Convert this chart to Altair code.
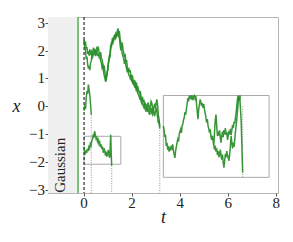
import altair as alt
import pandas as pd

GREEN = "#228b22"

# main path (two close sample paths)
A_t = [0.00,0.03,0.06,0.09,0.12,0.15,0.18,0.21,0.24,0.27,0.30,0.33,0.36,0.39,0.42,0.45,0.48,0.51,0.54,0.57,
       0.60,0.63,0.66,0.69,0.72,0.75,0.78,0.81,0.84,0.87,0.90,0.93,0.96,0.99,1.02,1.05,1.08,1.11,1.14,1.17,
       1.20,1.23,1.26,1.29,1.32,1.35,1.38,1.41,1.44,1.47,1.50,1.53,1.56,1.59,1.62,1.65,1.68,1.71,1.74,1.77,
       1.80,1.83,1.86,1.89,1.92,1.95,1.98,2.01,2.04,2.07,2.10,2.13,2.16,2.19,2.22,2.25,2.28,2.31,2.34,2.37,
       2.40,2.43,2.46,2.49,2.52,2.55,2.58,2.61,2.64,2.67,2.70,2.73,2.76,2.79,2.82,2.85,2.88,2.91,2.94,2.97,
       3.00,3.03,3.06,3.09,3.12,3.15]
A_x = [2.40,2.25,2.32,2.05,2.12,1.88,1.98,1.82,2.04,1.90,1.96,1.79,1.95,2.10,1.98,2.06,1.90,1.98,2.14,2.02,
       2.08,1.92,1.86,1.94,1.72,1.68,1.52,1.40,1.46,1.20,0.92,1.05,1.14,1.40,1.56,1.68,1.90,2.20,2.12,2.36,
       2.30,2.48,2.40,2.58,2.44,2.50,2.68,2.79,2.62,2.70,2.40,2.30,2.10,2.28,2.05,1.92,1.75,1.88,1.60,1.66,
       1.40,1.25,1.38,1.22,1.30,1.10,1.04,1.12,0.90,0.82,0.95,0.86,0.74,0.80,0.60,0.66,0.52,0.46,0.55,0.32,
       0.25,0.34,0.16,0.24,0.05,0.10,0.04,-0.12,0.06,0.14,-0.05,-0.10,0.02,0.18,0.12,-0.08,-0.18,0.00,0.10,-0.06,
       0.12,0.25,0.05,-0.30,-0.45,-0.72]
A2_x = [2.38,2.10,2.00,1.70,1.78,1.50,1.35,1.45,1.30,1.55,1.62,1.85,1.78,1.92,1.84,1.98,1.80,1.88,1.96,1.80,
        1.90,1.76,1.80,1.62,1.56,1.38,1.44,1.24,1.10,1.02,0.88,0.98,1.25,1.30,1.62,1.80,1.78,2.05,2.30,2.22,
        2.40,2.36,2.55,2.46,2.62,2.58,2.55,2.70,2.50,2.45,2.20,2.00,2.14,1.86,1.80,1.70,1.52,1.70,1.45,1.36,
        1.22,1.30,1.12,1.10,1.00,1.06,0.92,0.96,0.78,0.86,0.72,0.78,0.62,0.68,0.50,0.44,0.40,0.30,0.36,0.20,
        0.12,0.20,0.02,-0.04,0.08,-0.10,-0.18,-0.02,-0.20,-0.08,-0.22,-0.30,-0.15,-0.06,-0.25,-0.30,-0.10,-0.22,-0.35,-0.20,
        -0.05,-0.15,-0.40,-0.60,-0.50,-0.80]

# short path near t=0
C_t = [0.00,0.03,0.06,0.09,0.12,0.15,0.18,0.21,0.24,0.27,0.30]
C_x = [-0.15,0.05,-0.10,0.30,0.55,0.45,0.78,0.60,0.40,0.10,-0.30]

# inset 1 path
D_t = [0.00,0.03,0.05,0.08,0.11,0.14,0.17,0.20,0.23,0.26,0.29,0.32,0.35,0.38,0.41,0.44,0.47,0.50,0.53,0.56,
       0.59,0.62,0.65,0.68,0.71,0.74,0.77,0.80,0.83,0.86,0.89,0.92,0.95,0.98,1.01,1.04,1.07,1.09,1.11,1.12,
       1.13,1.15]
D_x = [-1.46,-1.62,-1.72,-1.58,-1.66,-1.52,-1.60,-1.45,-1.50,-1.34,-1.40,-1.24,-1.18,-1.05,-1.12,-0.89,-1.02,-1.15,-1.08,-1.26,
       -1.20,-1.34,-1.28,-1.46,-1.36,-1.52,-1.44,-1.66,-1.50,-1.58,-1.76,-1.62,-1.80,-1.70,-1.56,-1.78,-1.84,-1.40,-1.02,-1.30,
       -1.65,-2.12]

# inset 2 path
E_t = [3.30,3.33,3.36,3.39,3.42,3.45,3.48,3.51,3.54,3.57,3.60,3.63,3.66,3.69,3.72,3.75,3.78,3.81,3.84,3.87,
       3.90,3.93,3.96,3.99,4.02,4.05,4.08,4.11,4.14,4.17,4.20,4.23,4.26,4.29,4.32,4.35,4.38,4.41,4.44,4.47,
       4.50,4.53,4.56,4.59,4.62,4.65,4.68,4.71,4.74,4.77,4.80,4.83,4.86,4.89,4.92,4.95,4.98,5.01,5.04,5.07,
       5.10,5.13,5.16,5.19,5.22,5.25,5.28,5.31,5.34,5.37,5.40,5.43,5.46,5.49,5.52,5.55,5.58,5.61,5.64,5.67,
       5.70,5.73,5.76,5.79,5.82,5.85,5.88,5.91,5.94,5.97,6.00,6.03,6.06,6.09,6.12,6.15,6.18,6.21,6.24,6.27,
       6.30,6.33,6.36,6.39,6.42,6.45,6.48,6.51,6.54,6.56,6.58,6.60]
E_x = [-0.70,-0.85,-1.10,-1.02,-1.42,-1.30,-1.55,-1.48,-1.62,-1.50,-1.58,-1.40,-1.48,-1.36,-1.60,-1.72,-1.84,-1.60,-1.44,-1.30,
       -1.18,-1.26,-1.00,-0.90,-0.82,-0.95,-0.70,-0.62,-0.48,-0.40,-0.20,-0.30,-0.08,0.10,0.30,0.18,0.38,0.26,0.39,0.30,
       0.39,0.22,0.36,0.39,0.28,0.37,0.10,-0.20,-0.46,-0.10,0.05,0.25,0.18,0.02,0.12,-0.05,0.08,-0.11,-0.25,-0.40,
       -0.58,-0.45,-0.70,-0.80,-0.94,-0.82,-1.08,-1.20,-1.05,-1.25,-1.42,-0.90,-0.50,-0.29,-0.70,-1.06,-0.90,-1.05,-0.86,-1.15,
       -1.30,-1.05,-0.90,-1.10,-0.85,-1.00,-0.78,-1.02,-0.92,-1.20,-1.05,-0.88,-1.00,-0.80,-1.02,-0.85,-0.66,-0.78,-0.55,-0.62,
       -0.40,-0.20,0.05,0.30,0.39,0.20,0.32,-0.10,-0.58,-1.20,-1.80,-2.37]
E2_t = [5.40,5.43,5.46,5.49,5.52,5.55,5.58,5.61,5.64,5.67,5.70,5.73,5.76,5.79,5.82,5.85,5.88,5.91,5.94,5.97,
        6.00,6.03,6.06,6.09,6.12,6.15,6.18,6.21,6.24,6.27,6.30,6.33,6.36,6.39,6.42,6.45,6.48,6.50]
E2_x = [-1.42,-1.55,-1.40,-1.62,-1.50,-1.74,-1.60,-1.82,-1.70,-1.55,-1.78,-1.90,-1.72,-2.00,-2.19,-1.95,-1.70,-1.82,-1.60,-1.75,
        -1.85,-1.95,-1.70,-1.40,-1.05,-1.30,-1.50,-1.30,-1.45,-1.20,-0.90,-0.70,-0.40,-0.10,0.15,0.36,0.25,0.39]

# inset boxes
box_t0 = [0.0, 3.30]
box_t1 = [1.53, 7.70]
box_x0 = [-2.07, -2.54]
box_x1 = [-1.07, 0.39]

# dotted connector rules
dot_t = [0.30, 1.15, 3.15, 6.60]
dot_top = [-0.30, -2.12, -0.85, 0.0]
dot_bot = [-3.1, -3.1, -3.1, -2.54]

# axis ticks and their labels
x_ticks = [0, 2, 4, 6, 8]
x_tick_labels = ["0", "2", "4", "6", "8"]
y_ticks = [-3, -2, -1, 0, 1, 2, 3]
y_tick_labels = ["\u22123", "\u22122", "\u22121", "0", "1", "2", "3"]

rows = []
for name, ts, xs in [("A", A_t, A_x), ("A2", A_t, A2_x), ("C", C_t, C_x),
                     ("D", D_t, D_x), ("E", E_t, E_x), ("E2", E2_t, E2_x)]:
    for t, x in zip(ts, xs):
        rows.append({"series": name, "t": t, "x": x})
paths = pd.DataFrame(rows)

T_MIN, T_MAX = -1.5, 8.07
X_MIN, X_MAX = -3.1, 3.2
XS = alt.Scale(domain=[T_MIN, T_MAX], nice=False, zero=False)
YS = alt.Scale(domain=[X_MIN, X_MAX], nice=False, zero=False)
FONT = "Liberation Serif"

common = dict(grid=False, domain=False, labels=False, titleFont=FONT,
              titleFontSize=18, titleFontStyle="italic", titleFontWeight="normal",
              titleColor="#222", tickColor="#555", tickSize=3)
xaxis = alt.Axis(values=x_ticks, title="t", titleY=24, titleBaseline="middle", **common)
yaxis = alt.Axis(values=y_ticks, title="x", titleAngle=0, titleX=-32, titleY=89,
                 titleAlign="center", titleBaseline="middle", **common)


def X(f):
    return alt.X(f, scale=XS, axis=xaxis)


def Y(f):
    return alt.Y(f, scale=YS, axis=yaxis)


shade = alt.Chart(pd.DataFrame({"t0": [T_MIN], "t1": [-0.25]})).mark_rect(color="#f0f0f0").encode(
    x=X("t0:Q"), x2="t1:Q", y=alt.value(0), y2=alt.value(176))

boxes = alt.Chart(pd.DataFrame({"t0": box_t0, "t1": box_t1, "x0": box_x0, "x1": box_x1})).mark_rect(
    fillOpacity=0, stroke="#aaaaaa", strokeWidth=1).encode(
    x=X("t0:Q"), x2="t1:Q", y=Y("x0:Q"), y2="x1:Q")

green_rule = alt.Chart(pd.DataFrame({"t": [-0.25]})).mark_rule(color="#2ca02c", strokeWidth=1.2).encode(
    x=X("t:Q"))
dash_rule = alt.Chart(pd.DataFrame({"t": [0.0]})).mark_rule(color="black", strokeWidth=1,
                                                            strokeDash=[3, 2]).encode(x=X("t:Q"))

dots = alt.Chart(pd.DataFrame({"t": dot_t, "a": dot_top, "b": dot_bot})).mark_rule(
    color="#777", strokeWidth=0.8, strokeDash=[1, 1.5]).encode(
    x=X("t:Q"), y=Y("a:Q"), y2="b:Q")

lines = alt.Chart(paths).mark_line(color=GREEN, strokeWidth=1.5, opacity=0.9).encode(
    x=X("t:Q"), y=Y("x:Q"), detail="series:N")

label = alt.Chart(pd.DataFrame({"t": [-0.98], "x": [-2.11], "s": ["Gaussian"]})).mark_text(
    angle=270, font=FONT, fontSize=15, color="#222", align="center", baseline="middle").encode(
    x=X("t:Q"), y=Y("x:Q"), text="s:N")

xlab = alt.Chart(pd.DataFrame({"t": x_ticks, "x": [X_MIN] * len(x_ticks), "s": x_tick_labels})).mark_text(
    font=FONT, fontSize=15, color="#222", align="center", baseline="top", dy=3).encode(
    x=X("t:Q"), y=Y("x:Q"), text="s:N")

ylab = alt.Chart(pd.DataFrame({"t": [T_MIN] * len(y_ticks), "x": y_ticks, "s": y_tick_labels})).mark_text(
    font=FONT, fontSize=15, color="#222", align="right", baseline="middle", dx=-3).encode(
    x=X("t:Q"), y=Y("x:Q"), text="s:N")

chart = alt.layer(shade, boxes, green_rule, dash_rule, dots, lines, label, xlab, ylab).properties(
    width=230, height=176,
    autosize=alt.AutoSizeParams(type="none"),
    padding={"left": 40, "top": 9, "right": 5, "bottom": 40},
    background="white",
).configure_view(stroke="#b5b5b5", strokeWidth=1)

chart.save("out.html", embed_options={"renderer": "svg", "actions": False})
